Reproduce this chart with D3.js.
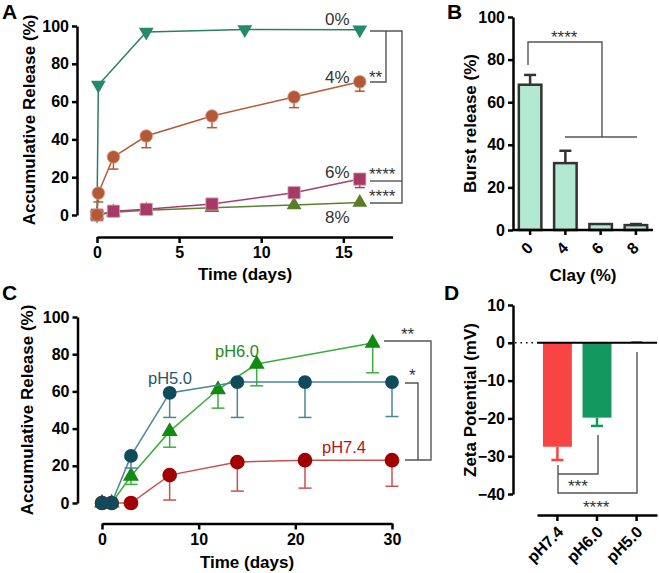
<!DOCTYPE html>
<html><head><meta charset="utf-8">
<script src="https://cdn.jsdelivr.net/npm/d3@7"></script>
<style>
body{margin:0;background:#fff;}
svg{font-family:"Liberation Sans",Arial,sans-serif;}
</style></head>
<body>
<svg id="c" width="659" height="573"></svg>
<script>
// ---------- DATA ----------
// Panel A: accumulative release vs time for clay %
const aTicksX = [0, 5, 10, 15];
const aTicksY = [0, 20, 40, 60, 80, 100];
const a0Time = [0, 0.083, 3, 9, 16];
const a0Val  = [0, 68.8, 96.8, 98.2, 98];
const a4Time = [0, 0.083, 1, 3, 7, 12, 16];
const a4Val  = [0, 11.6, 30.7, 41.8, 52.4, 62.4, 70.5];
const a4Sd   = [0, 4.7, 6.4, 6.2, 6.2, 5.6, 5];
const a6Time = [0, 1, 3, 7, 12, 16];
const a6Val  = [0, 2, 3, 5.8, 11.8, 19];
const a6Sd   = [0, 0, 0, 0, 0, 4.5];
const a8Time = [0, 1, 3, 7, 12, 16];
const a8Val  = [0, 1.5, 2.5, 3.8, 5.3, 6.6];
const aLabels = ["0%", "4%", "6%", "8%"];

// Panel B: burst release
const bCats = ["0", "4", "6", "8"];
const bVal  = [68.2, 31.4, 2.8, 2.3];
const bSd   = [4.6, 5.8, 0, 0.5];
const bTicksY = [0, 20, 40, 60, 80, 100];

// Panel C: release vs time at pH
const cTicksX = [0, 10, 20, 30];
const cTicksY = [0, 20, 40, 60, 80, 100];
const c50Time = [0, 1, 3, 7, 14, 21, 30];
const c50Val  = [0, 0, 25.3, 59.2, 65, 65, 65];
const c50Sd   = [0, 0, 6.5, 13.2, 19, 19, 18.5];
const c60Time = [0, 1, 3, 7, 12, 16, 28];
const c60Val  = [0, 0, 14.5, 38.5, 61, 74.7, 86];
const c60Sd   = [0, 0, 4.5, 8.5, 10, 11.7, 16];
const c74Time = [0, 1, 3, 7, 14, 21, 30];
const c74Val  = [0, 0, 0, 15, 22, 23, 23];
const c74Sd   = [0, 0, 0, 13.4, 15.6, 15, 14];
const cLabels = ["pH5.0", "pH6.0", "pH7.4"];

// Panel D: zeta potential
const dCats = ["pH7.4", "pH6.0", "pH5.0"];
const dVal  = [-27.5, -19.8, 0.4];
const dSd   = [3.5, 2.2, 0];
const dTicksY = [10, 0, -10, -20, -30, -40];

// ---------- DRAW ----------
const svg = d3.select("#c");
const FONT = '"Liberation Sans",Arial,sans-serif';

function styleAxis(g){
  g.selectAll("path.domain").attr("stroke","#000").attr("stroke-width",2.5);
  g.selectAll(".tick line").attr("stroke","#000").attr("stroke-width",2.5);
  g.selectAll(".tick text").attr("fill","#000").style("font-size","16px").style("font-weight","bold").style("font-family",FONT);
}
function title(x,y,txt,rot){
  const t = svg.append("text").attr("text-anchor","middle").style("font-size","17px")
    .style("font-weight","bold").attr("fill","#000").text(txt);
  if(rot) t.attr("transform",`translate(${x},${y}) rotate(-90)`);
  else t.attr("x",x).attr("y",y);
}
function panelLabel(x,y,t){
  svg.append("text").attr("x",x).attr("y",y).text(t).style("font-size","21px").style("font-weight","bold");
}
function path(pts){ return d3.line()(pts); }
function bracket(pts){
  svg.append("path").attr("d",path(pts)).attr("fill","none").attr("stroke","#555").attr("stroke-width",1.4);
}
function stars(x,y,t){
  svg.append("text").attr("x",x).attr("y",y).text(t).style("font-size","17px").attr("fill","#333");
}
const sym = (type,size)=>d3.symbol().type(type).size(size)();

function series(xs,ys,times,vals,sds,opts){
  const g = svg.append("g");
  g.append("path").attr("d",d3.line().x((d,i)=>xs(times[i])).y(d=>ys(d))(vals))
    .attr("fill","none").attr("stroke",opts.line).attr("stroke-width",1.5);
  if(sds){
    vals.forEach((v,i)=>{
      if(!sds[i]) return;
      const x = xs(times[i]), y0 = ys(v), y1 = ys(v - sds[i]);
      g.append("line").attr("x1",x).attr("x2",x).attr("y1",y0).attr("y2",y1).attr("stroke",opts.err).attr("stroke-width",1.5);
      g.append("line").attr("x1",x-opts.cap).attr("x2",x+opts.cap).attr("y1",y1).attr("y2",y1).attr("stroke",opts.err).attr("stroke-width",1.5);
    });
  }
  vals.forEach((v,i)=>{
    g.append("path").attr("d",sym(opts.sym,opts.size))
      .attr("transform",`translate(${xs(times[i])},${ys(v)})${opts.rot?" rotate(180)":""}`)
      .attr("fill",opts.fill).attr("stroke",opts.stroke||"none").attr("stroke-width",0.8);
  });
}

// ===== Panel A =====
const ax = d3.scaleLinear().domain([0,18]).range([97,392.6]);
const ay = d3.scaleLinear().domain([0,100]).range([215,26]);
svg.append("g").attr("transform","translate(77,0)")
  .call(d3.axisLeft(ay).tickValues(aTicksY).tickSize(5).tickPadding(3).tickSizeOuter(0)).call(styleAxis);
svg.append("g").attr("transform","translate(0,237)")
  .call(d3.axisBottom(ax).tickValues(aTicksX).tickSize(6).tickPadding(4).tickSizeOuter(0)).call(styleAxis);
title(35,120,"Accumulative Release (%)",true);
title(245,280,"Time (days)");
panelLabel(2,19,"A");

series(ax,ay,a0Time,a0Val,null,{line:"#2a7f68",err:"#2a7f68",sym:d3.symbolTriangle,size:95,fill:"#25896b",rot:true,cap:5});
series(ax,ay,a8Time,a8Val,null,{line:"#5d8030",err:"#5d8030",sym:d3.symbolTriangle,size:95,fill:"#5a7d28",cap:5});
series(ax,ay,a6Time,a6Val,a6Sd,{line:"#a3416b",err:"#a3416b",sym:d3.symbolSquare,size:150,fill:"#a63a66",stroke:"#d99ab5",cap:5});
series(ax,ay,a4Time,a4Val,a4Sd,{line:"#b45a37",err:"#b45a37",sym:d3.symbolCircle,size:125,fill:"#b4583a",stroke:"#e0a080",cap:5});

const aLabY = [25, 83, 178, 223];
aLabels.forEach((t,i)=>svg.append("text").attr("x",325).attr("y",aLabY[i]).text(t).style("font-size","17px").attr("fill","#333"));
bracket([[370,31],[402,31],[402,203],[370,203]]);
bracket([[386,31],[386,82],[370,82]]);
bracket([[370,181],[402,181]]);
stars(369,83,"**");
stars(369,180,"****");
stars(369,202,"****");

// ===== Panel B =====
const bx = d3.scaleBand().domain(bCats).range([513,653]).paddingInner(0.29).paddingOuter(0.13);
const by = d3.scaleLinear().domain([0,100]).range([230,17]);
svg.append("g").attr("transform","translate(513,0)")
  .call(d3.axisLeft(by).tickValues(bTicksY).tickSize(5).tickPadding(3).tickSizeOuter(0)).call(styleAxis);
bVal.forEach((v,i)=>{
  const c = bx(bCats[i]) + bx.bandwidth()/2;
  if(bSd[i]){
    svg.append("line").attr("x1",c).attr("x2",c).attr("y1",by(v)).attr("y2",by(v+bSd[i])).attr("stroke","#333").attr("stroke-width",2.5);
    svg.append("line").attr("x1",c-6).attr("x2",c+6).attr("y1",by(v+bSd[i])).attr("y2",by(v+bSd[i])).attr("stroke","#333").attr("stroke-width",2.5);
  }
  svg.append("rect").attr("x",bx(bCats[i])+1.25).attr("y",by(v)).attr("width",bx.bandwidth()-2.5).attr("height",by(0)-by(v))
    .attr("fill","#b3e8d3").attr("stroke","#333").attr("stroke-width",2.5);
});
const bxAxis = svg.append("g").attr("transform","translate(0,230)")
  .call(d3.axisBottom(bx).tickSize(5).tickPadding(4).tickSizeOuter(0)).call(styleAxis);
bxAxis.select("path.domain").attr("d","M513,0H653");
bxAxis.selectAll(".tick text").attr("text-anchor","end").attr("dy","0.35em").attr("dx","0")
  .attr("transform","translate(0,15) rotate(-45)").attr("y",0).attr("x",0);
title(476,123.5,"Burst release (%)",true);
title(583,281,"Clay (%)");
panelLabel(447,19,"B");
bracket([[528,65],[528,42],[602,42],[602,137]]);
bracket([[565,137],[637,137]]);
stars(551,43,"****");

// ===== Panel C =====
const cx = d3.scaleLinear().domain([0,30]).range([102,392]);
const cy = d3.scaleLinear().domain([0,100]).range([503,317]);
svg.append("g").attr("transform","translate(77.5,0)")
  .call(d3.axisLeft(cy).tickValues(cTicksY).tickSize(5).tickPadding(3).tickSizeOuter(0)).call(styleAxis);
svg.append("g").attr("transform","translate(0,523.5)")
  .call(d3.axisBottom(cx).tickValues(cTicksX).tickSize(6).tickPadding(4).tickSizeOuter(0)).call(styleAxis);
title(33,410,"Accumulative Release (%)",true);
title(247,568,"Time (days)");
panelLabel(2,300,"C");

series(cx,cy,c60Time,c60Val,c60Sd,{line:"#3cae3c",err:"#3cae3c",sym:d3.symbolTriangle,size:110,fill:"#118a11",cap:6.5});
series(cx,cy,c74Time,c74Val,c74Sd,{line:"#c95050",err:"#c95050",sym:d3.symbolCircle,size:170,fill:"#a00000",cap:6.5});
series(cx,cy,c50Time,c50Val,c50Sd,{line:"#4c8596",err:"#4c8596",sym:d3.symbolCircle,size:150,fill:"#104b5c",cap:6.5});
const cLabPos = [[148,384,"#1d5a6c"],[215,357,"#1b8a1b"],[322,453,"#b01515"]];
cLabels.forEach((t,i)=>svg.append("text").attr("x",cLabPos[i][0]).attr("y",cLabPos[i][1]).text(t)
  .style("font-size","16.5px").attr("fill",cLabPos[i][2]));
bracket([[384,341],[431,341],[431,460],[405,460]]);
bracket([[405,383],[418,383],[418,460]]);
stars(401,340,"**");
stars(409,381,"*");

// ===== Panel D =====
const dx = d3.scaleBand().domain(dCats).range([537,657]).paddingInner(0.27).paddingOuter(0.15);
const dy = d3.scaleLinear().domain([-40,10]).range([494,305]);
svg.append("g").attr("transform","translate(513,0)")
  .call(d3.axisLeft(dy).tickValues(dTicksY).tickSize(5).tickPadding(3).tickSizeOuter(0)).call(styleAxis);
const dColors = ["#f94444","#13995f","#1c5f8c"];
dVal.forEach((v,i)=>{
  const x0 = dx(dCats[i]), c = x0 + dx.bandwidth()/2;
  if(dSd[i]){
    svg.append("line").attr("x1",c).attr("x2",c).attr("y1",dy(v)).attr("y2",dy(v-dSd[i])).attr("stroke",dColors[i]).attr("stroke-width",2.5);
    svg.append("line").attr("x1",c-6).attr("x2",c+6).attr("y1",dy(v-dSd[i])).attr("y2",dy(v-dSd[i])).attr("stroke",dColors[i]).attr("stroke-width",2.5);
  }
  const w = i===2 ? 11 : dx.bandwidth();
  svg.append("rect").attr("x",c-w/2).attr("y",Math.min(dy(v),dy(0))).attr("width",w)
    .attr("height",Math.max(1.5,Math.abs(dy(v)-dy(0)))).attr("fill",dColors[i]);
});
// zero line
svg.append("line").attr("x1",515).attr("x2",537).attr("y1",dy(0)).attr("y2",dy(0)).attr("stroke","#000").attr("stroke-width",1.5).attr("stroke-dasharray","1.5,4");
svg.append("line").attr("x1",537).attr("x2",657).attr("y1",dy(0)).attr("y2",dy(0)).attr("stroke","#000").attr("stroke-width",2);
const dxAxis = svg.append("g").attr("transform","translate(0,515)")
  .call(d3.axisBottom(dx).tickSize(6).tickPadding(4).tickSizeOuter(0)).call(styleAxis);
dxAxis.selectAll(".tick text").attr("text-anchor","end").attr("dy","0.35em")
  .attr("transform","translate(3,14) rotate(-45)").attr("y",0).attr("x",0);
title(476,400,"Zeta Potential (mV)",true);
panelLabel(444,300,"D");
bracket([[558,465],[558,493],[637,493],[637,352]]);
bracket([[558,474],[598,474],[598,435]]);
stars(568,492,"***");
stars(583,513,"****");
</script>
</body></html>
